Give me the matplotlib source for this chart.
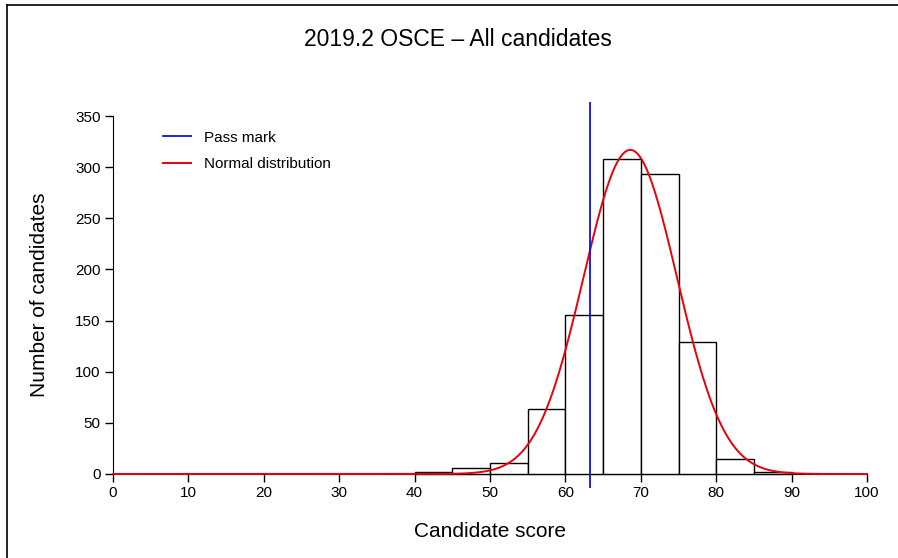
import numpy as np
from matplotlib import pyplot as plt
from matplotlib.lines import Line2D

plt.rcParams['font.family'] = ['Liberation Sans', 'DejaVu Sans']

# histogram bins (score) and counts
bin_edges = [40, 45, 50, 55, 60, 65, 70, 75, 80, 85, 90]
counts = [2, 6, 11, 64, 155, 308, 293, 129, 15, 2]

pass_mark = 63.3
score_mean = 68.6
score_sd = 6.2
n_total = sum(counts)

xticks = [0, 10, 20, 30, 40, 50, 60, 70, 80, 90, 100]
yticks = [0, 50, 100, 150, 200, 250, 300, 350]

fig = plt.figure(figsize=(8.98, 5.58), dpi=100)
ax = fig.add_axes([0.0922, 0.1249, 0.9069, 0.6928])

widths = np.diff(bin_edges)
ax.bar(bin_edges[:-1], counts, width=widths, align='edge',
       facecolor='white', edgecolor='black', linewidth=1.0, zorder=2)

# fitted normal curve, scaled to counts per 5-point bin
xs = np.linspace(0, 100, 801)
ys = n_total * 5 / (score_sd * np.sqrt(2 * np.pi)) * np.exp(-0.5 * ((xs - score_mean) / score_sd) ** 2)
ax.plot(xs, ys, color='#e8000b', lw=1.4, zorder=3, label='Normal distribution')
ax.axvline(pass_mark, color='#1010e0', lw=1.3, zorder=4, label='Pass mark')

ax.set_xlim(-4, 104)
ax.set_ylim(-14, 364)

for s in ['top', 'right']:
    ax.spines[s].set_visible(False)
ax.spines['left'].set_position(('data', 0))
ax.spines['bottom'].set_position(('data', 0))
ax.spines['left'].set_bounds(0, 350)
ax.spines['bottom'].set_bounds(0, 100)
ax.spines['left'].set_zorder(1)
ax.spines['bottom'].set_zorder(1)

ax.set_xticks(xticks)
ax.set_yticks(yticks)
ax.tick_params(axis='both', direction='out', length=6, width=1, labelsize=11, pad=3)

ax.set_xlabel('Candidate score', fontsize=15)
ax.set_ylabel('Number of candidates', fontsize=15)
ax.xaxis.set_label_coords(0.5, -0.087)
ax.yaxis.set_label_coords(-0.042, 0.5)

h, l = ax.get_legend_handles_labels()
ax.legend(h[::-1], l[::-1], loc='upper left', bbox_to_anchor=(0.0985, 0.925),
          frameon=False, fontsize=11, handlelength=1.8, handletextpad=0.9,
          labelspacing=0.8, borderpad=0, borderaxespad=0)

fig.text(0.51, 0.93, '2019.2 OSCE \u2013 All candidates', ha='center', va='center', fontsize=16.5)

# frame lines at the left and top of the image
fig.add_artist(Line2D([0.0078, 0.0078], [0, 0.991], color='black', lw=1.2, transform=fig.transFigure))
fig.add_artist(Line2D([0.0078, 1], [0.991, 0.991], color='black', lw=1.2, transform=fig.transFigure))

fig.savefig('out.png', dpi=100)
